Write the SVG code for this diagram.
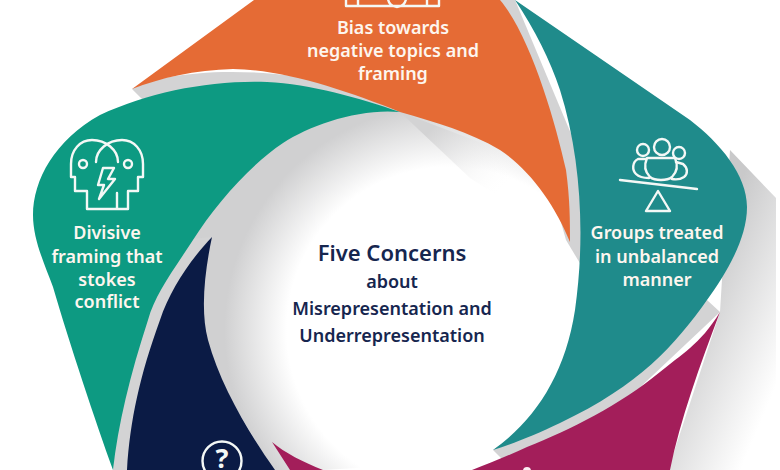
<svg xmlns="http://www.w3.org/2000/svg" width="780" height="470" viewBox="0 0 780 470">
<style>
.t{font-family:"Noto Sans","Liberation Sans",sans-serif;font-weight:600;fill:#fdf6ef;text-anchor:middle;font-size:18px}
.c{font-family:"Noto Sans","Liberation Sans",sans-serif;font-weight:600;fill:#16264f;text-anchor:middle;font-size:18px}
.i{fill:none;stroke:#f4f8f6;stroke-width:2.4;stroke-linejoin:round;stroke-linecap:round}
.g{fill:#d3d3d4}
</style>
<defs>
<radialGradient id="inner" gradientUnits="userSpaceOnUse" cx="450" cy="330" r="240">
<stop offset="0.68" stop-color="#fff"/><stop offset="0.94" stop-color="#d0d0d1"/>
</radialGradient>
<linearGradient id="side" gradientUnits="userSpaceOnUse" x1="690" y1="300" x2="794" y2="344">
<stop offset="0" stop-color="#c9c9ca"/><stop offset="1" stop-color="#fff"/>
</linearGradient>
<linearGradient id="fold" gradientUnits="userSpaceOnUse" x1="420" y1="120" x2="520" y2="225">
<stop offset="0.1" stop-color="#d3d3d4"/><stop offset="0.75" stop-color="#fff" stop-opacity="0"/>
</linearGradient>
</defs>
<rect width="780" height="470" fill="#fff"/>
<g id="connectors"></g>
<g id="backdrop">
<path d="M400,100L510,140L575,242L590,300L493,460L323,470H273L195,340L190,237L270,125Z" fill="url(#inner)"/>
<path d="M400,112L500,150C530,170 555,205 570,242L470,178Z" fill="url(#fold)"/>
<path d="M730,150L776,198V470H668L720,312Z" fill="url(#side)"/>
<path class="g" d="M132,89C160,70 300,55 410,112L300,100L150,105L143,100Z"/>
<path class="g" d="M180,240L212,237L170,320L140,470H113L125,330Z"/>
<path class="g" d="M498,0H515L582,160L584,270L566,240Z"/>
<path class="g" d="M493,450L707,300L720,312L600,425L527,455L506,463Z"/>
</g>
<g id="node-orange">
<path fill="#e56b35" d="M132,89L254,0H500C530,35 555,120 566,170C570,200 570,220 570,242C555,205 530,170 500,150C470,132 435,122 400,112C345,90 285,70 233,69C195,70 160,78 132,89Z"/>
<path class="i" d="M346,-4V6H439V-4M358,-2V6M427,-2V6M388,-2A9,9 0 0 0 406,-2"/>
<text class="t" x="393" y="34">Bias towards</text>
<text class="t" x="393" y="57">negative topics and</text>
<text class="t" x="393" y="80">framing</text>
</g>
<g id="node-green">
<path fill="#0d9a82" d="M100,115C150,92 210,80 267,82C310,84 360,98 400,112C360,108 310,125 283,143C250,165 215,205 193,240C170,275 155,295 148,320C130,375 118,425 113,470C95,420 70,345 53,287C45,265 33,240 33,215C33,180 55,140 100,115Z"/>
<path class="i" d="M87,209V191H75V177H71V164C71,150 80,140 92,140C106,140 118,150 118,162M128,209V191H138V177H143V164C143,150 134,140 122,140C108,140 96,150 96,162M87,209H128M117,209V193"/>
<circle class="i" cx="83" cy="164" r="4"/><circle class="i" cx="128" cy="164" r="4"/>
<path class="i" stroke-width="1.8" d="M103,168H114L108,179H115L99,199L104,185H98Z"/>
<text class="t" x="107" y="239">Divisive</text>
<text class="t" x="107" y="263">framing that</text>
<text class="t" x="107" y="286">stokes</text>
<text class="t" x="107" y="308">conflict</text>
</g>
<g id="node-teal">
<path fill="#1f8b8b" d="M515,0L690,120C720,143 747,175 747,207C747,240 725,275 707,300C675,345 640,385 560,423C535,435 515,443 493,450C535,420 565,375 575,310C585,240 582,160 560,90C550,60 535,30 515,0Z"/>
<circle class="i" cx="643" cy="150" r="6"/><circle class="i" cx="662" cy="147" r="8"/><circle class="i" cx="679" cy="153" r="6"/>
<path class="i" d="M647,158H675C678,165 677,172 672,177C667,181 655,181 650,177C645,172 644,165 647,158Z"/>
<path class="i" d="M646,159H638C632,162 632,170 636,174C639,177 644,178 649,178M676,162L683,164C688,168 688,174 684,177C681,179 677,180 672,179"/>
<path class="i" d="M620,180L697,189M658,191L646,211H670Z"/>
<text class="t" x="657" y="239">Groups treated</text>
<text class="t" x="657" y="263">in unbalanced</text>
<text class="t" x="657" y="286">manner</text>
</g>
<g id="node-navy">
<path fill="#0b1b45" d="M212,237C205,270 200,310 208,340C220,385 250,435 275,470H127C130,420 140,375 160,320C170,290 190,260 212,237Z"/>
<circle class="i" cx="222" cy="461" r="19.5"/>
<text x="222" y="468" text-anchor="middle" font-family="Noto Sans,Liberation Sans,sans-serif" font-weight="700" font-size="27" fill="#f4f8f6">?</text>
</g>
<g id="node-magenta">
<path fill="#a31e5a" d="M720,312C700,345 680,355 660,372C620,405 570,430 527,447C510,455 490,463 472,470H670C680,420 700,365 720,312Z"/>
<path fill="#a31e5a" d="M272,442L290,470H323C303,462 285,453 272,442Z"/>
<circle cx="527" cy="471" r="4" fill="#fbeef3"/>
</g>
<g id="node-center">
<text class="c" x="392" y="261" style="font-size:22px">Five Concerns</text>
<text class="c" x="392" y="288">about</text>
<text class="c" x="392" y="315">Misrepresentation and</text>
<text class="c" x="392" y="342">Underrepresentation</text>
</g>
</svg>
